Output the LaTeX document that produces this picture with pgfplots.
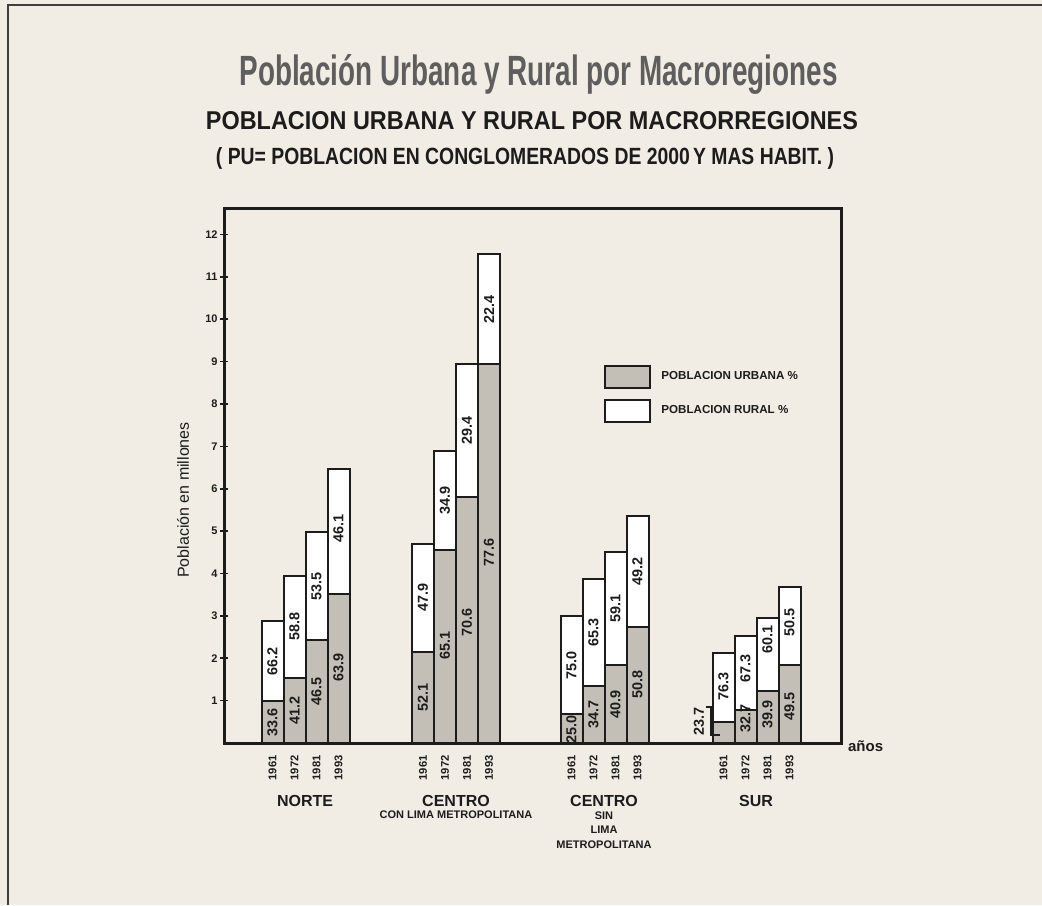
\documentclass[border=0pt]{standalone}
\usepackage{pgfplots}
\pgfplotsset{compat=1.18}
\usepackage{pgfplotstable}
\usepackage{graphicx}
\usepackage{fontspec}
\setmainfont{Liberation Sans}
\definecolor{paper}{HTML}{F1EDE4}
\definecolor{urb}{HTML}{C3BFB6}
\definecolor{ink}{HTML}{1C1C1C}
\definecolor{titlegray}{HTML}{5E5E5E}

% bar centre, urban population, total population (millions)
\pgfplotstableread{
x      urban  total
272.5  0.98   2.88
294.5  1.53   3.95
316.5  2.42   4.97
338.5  3.52   6.46
423    2.15   4.70
445    4.56   6.88
467    5.80   8.94
489    8.94   11.53
571.5  0.69   3.00
593.5  1.35   3.86
615.5  1.83   4.51
637.5  2.74   5.35
723.5  0.50   2.13
745.5  0.78   2.52
767.5  1.22   2.96
789.5  1.85   3.69
}\bars

% percentage labels (position inside the segments)
\pgfplotstableread{
x      y      lab
272.5  0.49   33.6
272.5  1.93   66.2
294.5  0.77   41.2
294.5  2.74   58.8
316.5  1.21   46.5
316.5  3.70   53.5
338.5  1.78   63.9
338.5  5.05   46.1
423    1.08   52.1
423    3.43   47.9
445    2.30   65.1
445    5.72   34.9
467    2.85   70.6
467    7.37   29.4
489    4.50   77.6
489    10.24  22.4
571.5  0.33   25.0
571.5  1.82   75.0
593.5  0.68   34.7
593.5  2.61   65.3
615.5  0.92   40.9
615.5  3.17   59.1
637.5  1.38   50.8
637.5  4.05   49.2
699    0.50   23.7
723.5  1.33   76.3
745.5  0.58   32.7
745.5  1.75   67.3
767.5  0.67   39.9
767.5  2.45   60.1
789.5  0.85   49.5
789.5  2.85   50.5
}\labs

\begin{document}
\begin{tikzpicture}
\fill[paper] (0,0) rectangle (521pt,452.5pt);
\path[use as bounding box] (0,0) rectangle (521pt,452.5pt);
\draw[ink!85, line width=1pt] (4pt,0) -- (4pt,450pt) -- (521pt,450pt);

% titles
\node[anchor=base, text=titlegray, inner sep=0pt] at (269.25pt,409.5pt)
  {\resizebox*{299pt}{20pt}{\bfseries Población Urbana y Rural por Macroregiones}};
\node[anchor=base, text=ink, inner sep=0pt] at (266pt,387.5pt)
  {\resizebox{326pt}{9pt}{\bfseries POBLACION URBANA Y RURAL POR MACRORREGIONES}};
\node[anchor=base, text=ink, inner sep=0pt] at (262.5pt,370pt)
  {\resizebox{309pt}{8.5pt}{\bfseries ( PU= POBLACION EN CONGLOMERADOS DE 2000\,Y MAS HABIT. )}};

\begin{axis}[
  at={(112pt,81pt)}, anchor=south west, scale only axis,
  width=308.5pt, height=267pt,
  xmin=224, xmax=841, ymin=0, ymax=12.6,
  clip=false,
  axis line style={ink, line width=1.5pt},
  ytick={1,2,3,4,5,6,7,8,9,10,11,12},
  ytick pos=left,
  tick align=center,
  major tick length=4pt,
  tick style={ink, line width=0.8pt},
  xtick style={draw=none},
  /pgf/number format/assume math mode=true,
  yticklabel style={font=\bfseries\fontsize{5.5}{6}\selectfont, text=ink, inner sep=1pt},
  xtick={272.5,294.5,316.5,338.5,423,445,467,489,571.5,593.5,615.5,637.5,723.5,745.5,767.5,789.5},
  xticklabels={1961,1972,1981,1993,1961,1972,1981,1993,1961,1972,1981,1993,1961,1972,1981,1993},
  xticklabel style={yshift=-4pt, rotate=90, anchor=east, inner sep=0pt,
    font=\bfseries\fontsize{5.6}{6}\selectfont, text=ink},
  legend style={at={(axis cs:604,8.94)}, anchor=north west, draw=none, fill=none,
    inner sep=0pt, row sep=5pt, font=\bfseries\fontsize{5.8}{7}\selectfont, text=ink,
    /tikz/every odd column/.append style={column sep=3pt}},
  legend cell align=left,
  reverse legend,
]
\addplot[ybar, bar width=22, bar shift=0pt, fill=white, draw=ink, line width=1pt,
  legend image code/.code={\draw[fill=white, draw=ink, line width=1pt] (0pt,-5.5pt) rectangle (22.5pt,5.5pt);}]
  table[x=x, y=total] {\bars};
\addlegendentry{POBLACION RURAL \%}
\addplot[ybar, bar width=22, bar shift=0pt, fill=urb, draw=ink, line width=1pt,
  legend image code/.code={\draw[fill=urb, draw=ink, line width=1pt] (0pt,-5.5pt) rectangle (22.5pt,5.5pt);}]
  table[x=x, y=urban] {\bars};
\addlegendentry{POBLACION URBANA \%}
\addplot[draw=none, mark=none, forget plot, nodes near coords, point meta=explicit symbolic,
  nodes near coords style={rotate=90, anchor=center, inner sep=0pt, text=ink,
    font=\bfseries\fontsize{7.2}{8}\selectfont}]
  table[x=x, y=y, meta=lab] {\labs};
\draw[ink, line width=0.6pt] (axis cs:706,0.85) -- (axis cs:711,0.85) -- (axis cs:711,0.19) -- (axis cs:720,0.19);
\end{axis}

% axis title and group names
\node[rotate=90, font=\fontsize{8}{9}\selectfont, text=ink] at (91.5pt,202.5pt) {Población en millones};
\node[anchor=west, font=\bfseries\fontsize{7.5}{8}\selectfont, text=ink] at (420.5pt,79.5pt) {años};
\node[font=\bfseries\fontsize{8}{9}\selectfont, text=ink] at (152.5pt,52pt) {NORTE};
\node[font=\bfseries\fontsize{8}{9}\selectfont, text=ink] at (228pt,52pt) {CENTRO};
\node[font=\bfseries\fontsize{5.5}{6}\selectfont, text=ink] at (228pt,45pt) {CON LIMA METROPOLITANA};
\node[font=\bfseries\fontsize{8}{9}\selectfont, text=ink] at (302pt,52pt) {CENTRO};
\node[font=\bfseries\fontsize{5.5}{6}\selectfont, text=ink] at (302pt,44.5pt) {SIN};
\node[font=\bfseries\fontsize{5.5}{6}\selectfont, text=ink] at (302pt,37.5pt) {LIMA};
\node[font=\bfseries\fontsize{5.5}{6}\selectfont, text=ink] at (302pt,30pt) {METROPOLITANA};
\node[font=\bfseries\fontsize{8}{9}\selectfont, text=ink] at (378pt,52pt) {SUR};
\end{tikzpicture}
\end{document}
